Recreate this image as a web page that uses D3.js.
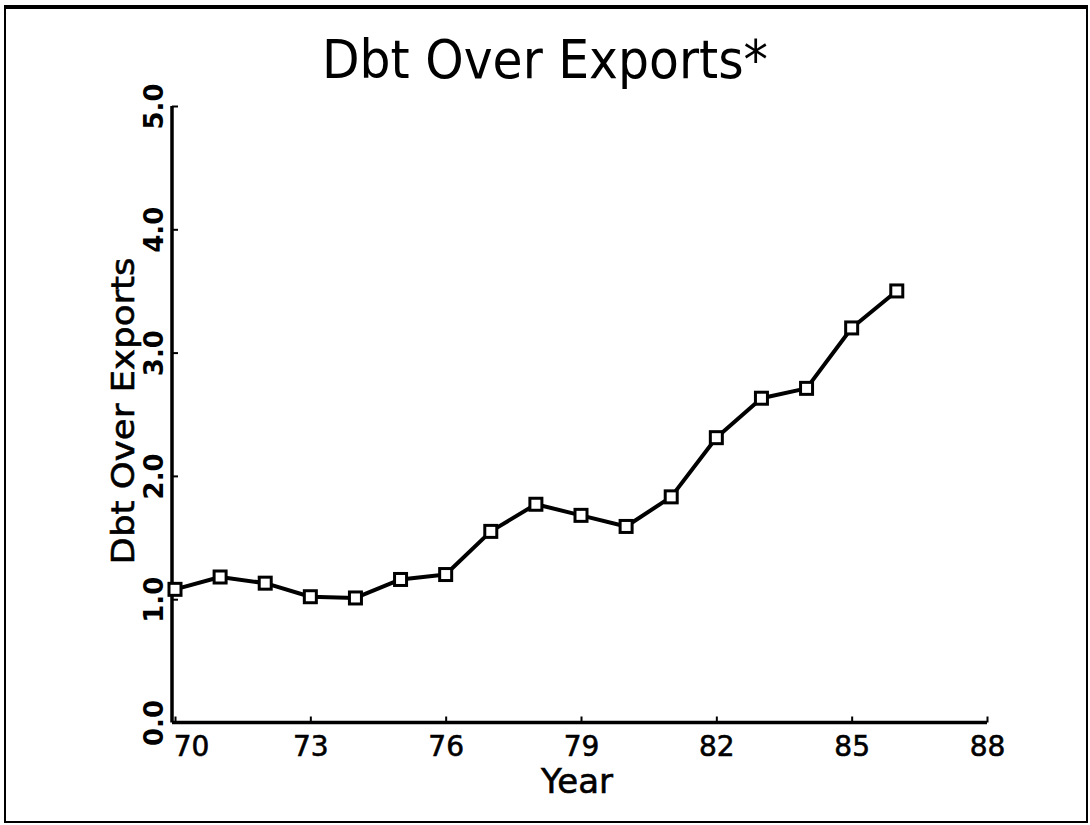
<!DOCTYPE html>
<html>
<head>
<meta charset="utf-8">
<script src="https://cdn.jsdelivr.net/npm/d3@7"></script>
<style>
    body { margin: 0; background: #fff; }
    svg { display: block; }
    text { font-family: "DejaVu Sans", sans-serif; fill: #000; }
</style>
</head>
<body>
<div id="chart"></div>
<script>
// Data
const years = [70, 71, 72, 73, 74, 75, 76, 77, 78, 79, 80, 81, 82, 83, 84, 85, 86];
const dbtOverExports = [1.08, 1.18, 1.13, 1.02, 1.01, 1.16, 1.20, 1.55, 1.77, 1.68, 1.59, 1.83, 2.31, 2.63, 2.71, 3.20, 3.50];
const xTicks = [70, 73, 76, 79, 82, 85, 88];
const yTicks = [0, 1, 2, 3, 4, 5];

const W = 1090, H = 825;

const svg = d3.select('#chart')
    .append('svg')
    .attr('width', W)
    .attr('height', H);

// page frame
svg.append('rect')
    .attr('x', 5).attr('y', 7)
    .attr('width', 1082).attr('height', 815)
    .attr('fill', 'none')
    .attr('stroke', '#000')
    .attr('stroke-width', 2);
svg.append('line')
    .attr('x1', 4).attr('x2', 1088)
    .attr('y1', 7).attr('y2', 7)
    .attr('stroke', '#000')
    .attr('stroke-width', 4);

const x = d3.scaleLinear().domain([70, 88]).range([175, 987]);
const y = d3.scaleLinear().domain([0, 5]).range([722.5, 106]);

// x axis
const xAxis = svg.append('g')
    .attr('transform', `translate(0,${y(0)})`)
    .call(d3.axisBottom(x)
        .tickValues(xTicks)
        .tickSizeInner(-6)
        .tickSizeOuter(0)
        .tickPadding(14)
        .tickFormat(d3.format('d')));
xAxis.select('.domain')
    .attr('d', `M${x(70) - 3},0H${x(88)}`)
    .attr('stroke-width', 3.5);
xAxis.selectAll('.tick line').attr('stroke-width', 2);
xAxis.selectAll('.tick text')
    .style('font-size', '28px')
    .style('stroke', '#000')
    .style('stroke-width', 0.6)
    .attr('dx', d => d === 70 ? 16 : 0);

// y axis
const yAxis = svg.append('g')
    .attr('transform', `translate(${x(70) - 3},0)`)
    .call(d3.axisLeft(y)
        .tickValues(yTicks)
        .tickSizeInner(-6)
        .tickSizeOuter(0)
        .tickFormat(d3.format('.1f')));
yAxis.select('.domain')
    .attr('d', `M0,${y(0)}V${y(5)}`)
    .attr('stroke-width', 3.5);
yAxis.selectAll('.tick line').attr('stroke-width', 2);
yAxis.selectAll('.tick text')
    .attr('transform', 'rotate(-90)')
    .attr('x', 0)
    .attr('y', -9)
    .attr('dy', 0)
    .style('text-anchor', 'middle')
    .style('font-weight', 'bold')
    .style('font-size', '26px');

// titles
svg.append('text')
    .attr('x', 545).attr('y', 78)
    .attr('text-anchor', 'middle')
    .attr('textLength', 446)
    .attr('lengthAdjust', 'spacingAndGlyphs')
    .style('font-size', '54px')
    .text('Dbt Over Exports*');

svg.append('text')
    .attr('x', 577).attr('y', 793)
    .attr('text-anchor', 'middle')
    .style('font-size', '34px')
    .style('stroke', '#000')
    .style('stroke-width', 0.6)
    .text('Year');

svg.append('text')
    .attr('transform', 'translate(134,411) rotate(-90)')
    .attr('text-anchor', 'middle')
    .attr('textLength', 307)
    .attr('lengthAdjust', 'spacingAndGlyphs')
    .style('font-size', '32px')
    .style('stroke', '#000')
    .style('stroke-width', 0.6)
    .text('Dbt Over Exports');

// series
const points = years.map((yr, i) => ({ year: yr, value: dbtOverExports[i] }));

svg.append('path')
    .datum(points)
    .attr('fill', 'none')
    .attr('stroke', '#000')
    .attr('stroke-width', 4)
    .attr('stroke-linejoin', 'round')
    .attr('d', d3.line().x(d => x(d.year)).y(d => y(d.value)));

svg.selectAll('.marker')
    .data(points)
    .enter()
    .append('rect')
    .attr('class', 'marker')
    .attr('x', d => x(d.year) - 6)
    .attr('y', d => y(d.value) - 6)
    .attr('width', 12)
    .attr('height', 12)
    .attr('fill', '#fff')
    .attr('stroke', '#000')
    .attr('stroke-width', 3);
</script>
</body>
</html>
